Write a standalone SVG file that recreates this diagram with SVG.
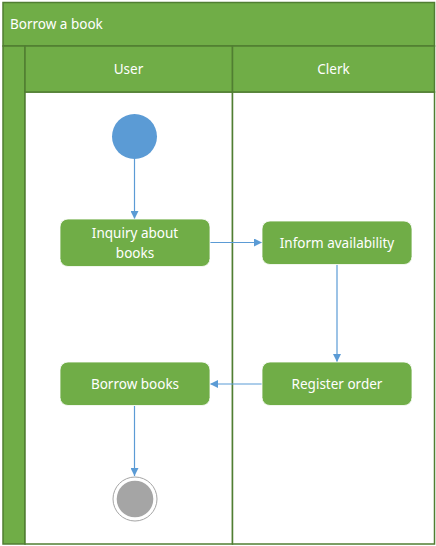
<svg xmlns="http://www.w3.org/2000/svg" width="436" height="546" viewBox="0 0 436 546">
<style>
.band{fill:#70ad47;stroke:#507e32;stroke-width:1.5}
.lane{fill:#ffffff;stroke:#507e32;stroke-width:1.5}
.node{fill:#70ad47;stroke:#ffffff;stroke-width:0.8}
.t{font-family:"Noto Sans","Open Sans",sans-serif;font-size:13.5px;fill:#ffffff}
.c{text-anchor:middle}
.conn{stroke:#5b9bd5;stroke-width:1.2;fill:none;marker-end:url(#arr)}
</style>
<defs>
<marker id="arr" viewBox="0 0 10 10" refX="10" refY="5" markerWidth="8" markerHeight="8" markerUnits="userSpaceOnUse" orient="auto">
<path d="M0,0 L10,5 L0,10 z" fill="#5b9bd5"/>
</marker>
</defs>
<g id="pool">
<rect class="band" x="3" y="2.5" width="431.5" height="43.5"/>
<rect class="band" x="3" y="46" width="22" height="498"/>
<text class="t" x="10" y="29">Borrow a book</text>
</g>
<g id="lane-user">
<rect class="lane" x="25" y="92" width="207.5" height="452"/>
<rect class="band" x="25" y="46" width="207.5" height="46"/>
<text class="t c" x="128.5" y="74">User</text>
</g>
<g id="lane-clerk">
<rect class="lane" x="232.5" y="92" width="202" height="452"/>
<rect class="band" x="232.5" y="46" width="202" height="46"/>
<text class="t c" x="333.5" y="74">Clerk</text>
</g>
<g id="connectors">
<line class="conn" x1="134.5" y1="159" x2="134.5" y2="219"/>
<line class="conn" x1="210" y1="242.5" x2="262" y2="242.5"/>
<line class="conn" x1="337" y1="264.5" x2="337" y2="362"/>
<line class="conn" x1="262" y1="384" x2="210" y2="384"/>
<line class="conn" x1="134.5" y1="406" x2="134.5" y2="476"/>
</g>
<g id="start">
<circle cx="134.5" cy="136.5" r="22.5" fill="#5b9bd5"/>
</g>
<g id="inquiry">
<rect class="node" x="60" y="219" width="150" height="47.5" rx="8"/>
<text class="t c" x="135" y="238">Inquiry about</text>
<text class="t c" x="135" y="258">books</text>
</g>
<g id="inform">
<rect class="node" x="262" y="221" width="150" height="43.5" rx="8"/>
<text class="t c" x="337" y="248">Inform availability</text>
</g>
<g id="register">
<rect class="node" x="262" y="362" width="150" height="43.5" rx="8"/>
<text class="t c" x="337" y="389">Register order</text>
</g>
<g id="borrow">
<rect class="node" x="60" y="362" width="150" height="43.5" rx="8"/>
<text class="t c" x="135" y="389">Borrow books</text>
</g>
<g id="end">
<circle cx="135" cy="499" r="22" fill="#ffffff" stroke="#a5a5a5" stroke-width="1"/>
<circle cx="135" cy="499" r="18.3" fill="#a5a5a5"/>
</g>
</svg>
